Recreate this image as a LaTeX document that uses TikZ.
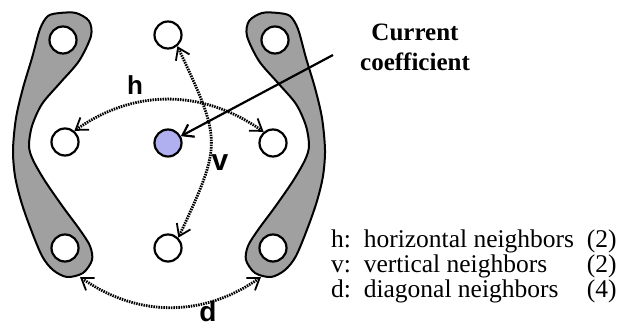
\documentclass[tikz,border=0pt]{standalone}
\usepackage{fontspec}
\setmainfont{Liberation Serif}
\setsansfont{Liberation Sans}
\usetikzlibrary{arrows.meta,positioning}
\definecolor{coefblue}{RGB}{176,176,240}
\definecolor{bandgray}{RGB}{160,160,160}
\tikzset{
    cell/.style={
        circle, draw, line width=2.2pt, fill=white,
        minimum size=27pt, inner sep=0pt
    },
    current/.style={cell, fill=coefblue},
    band/.style={draw, line width=2pt, fill=bandgray},
    nbrarrow/.style={
        line width=2.8pt, dash pattern=on 1.5pt off 1pt,
        {Straight Barb[length=11pt,width=15pt,line width=1.8pt]}-{Straight Barb[length=11pt,width=15pt,line width=1.8pt]}
    },
    pointer/.style={-{Straight Barb[length=10pt,width=14pt]}, line width=2.2pt},
    tag/.style={font=\sffamily\bfseries\fontsize{26}{28}\selectfont, inner sep=0pt},
    bandshape/.pic={
        \filldraw[band] plot[smooth cycle, tension=0.5] coordinates {
            (60,313) (48,310) (40,297) (32,268) (23,238) (16,208) (13,176)
            (15,150) (21,125) (30,99) (42,70) (53,56) (67,49) (83,53)
            (92,66) (90,80) (80,96) (63,119) (45,145) (33,166) (29,180)
            (32,200) (42,222) (60,243) (79,265) (91,290) (89,305) (76,313)};
    }
}

\begin{document}
\begin{tikzpicture}[x=1pt,y=1pt]
\useasboundingbox (0,0) rectangle (621,326);

% ---- Diagonal groups ----
\pic at (0,0) {bandshape};
\pic[xscale=-1] at (338,0) {bandshape};

% ---- Top row ----
\node[cell] (tl) at (63,  286) {};
\node[cell] (tm) at (168, 291) {};
\node[cell] (tr) at (275, 286) {};

% ---- Middle row ----
\node[cell]    (ml) at (65,  184) {};
\node[current] (c)  at (168, 183) {};
\node[cell]    (mr) at (273, 183) {};

% ---- Bottom row ----
\node[cell] (bl) at (65,  78) {};
\node[cell] (bm) at (168, 78) {};
\node[cell] (br) at (273, 78) {};

% ends of the diagonal arrow (on the gray groups)
\coordinate (dl) at (80,  49);
\coordinate (dr) at (261, 49);

% Neighbor arrows
\draw[nbrarrow] (ml.50) to[out=35, in=145] (mr.130);
\draw[nbrarrow] (tm.-50) to[out=-65, in=65, looseness=1.4] (bm.45);
\draw[nbrarrow] (dl) to[out=-35, in=-145] (dr);

\node[tag] (h) at (135, 241) {h};
\node[tag, font=\sffamily\bfseries\fontsize{30}{32}\selectfont] (v) at (220, 163) {v};
\node[tag, font=\sffamily\bfseries\fontsize{28}{30}\selectfont] (d) at (208, 15) {d};

% Current coefficient label and pointer
\node[align=center, font=\bfseries\fontsize{25}{30}\selectfont] (lbl) at (415, 279) {Current\\coefficient};
\coordinate (cc) at (333, 271);
\draw[pointer] (cc) -- (c.28);

% Legend
\node[anchor=west, inner sep=0pt, font=\fontsize{25.5}{24}\selectfont] (key) at (331, 59) {%
  \begin{tabular}{@{}l@{\ \ }l@{\ \ }r@{}}
    h: & horizontal neighbors & (2)\\
    v: & vertical neighbors   & (2)\\
    d: & diagonal neighbors   & (4)
  \end{tabular}};

\end{tikzpicture}
\end{document}
